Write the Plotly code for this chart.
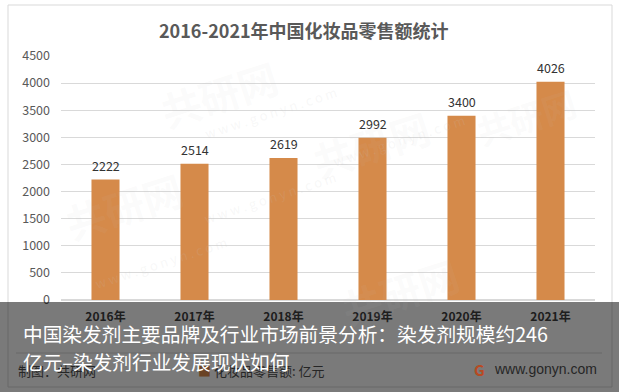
import plotly.graph_objects as go

categories = ["2016年", "2017年", "2018年", "2019年", "2020年", "2021年"]
values = [2222, 2514, 2619, 2992, 3400, 4026]
y_ticks = [0, 500, 1000, 1500, 2000, 2500, 3000, 3500, 4000, 4500]

title_text = "2016-2021年中国化妆品零售额统计"
overlay_line1 = "中国染发剂主要品牌及行业市场前景分析：染发剂规模约246"
overlay_line2 = "亿元–染发剂行业发展现状如何"
source_text = "制图：共研网"
legend_text = "化妆品零售额: 亿元"
site_text = "www.gonyn.com"

W, H = 619, 392
L, R, T, B = 61, 24, 56, 92
PW, PH = W - L - R, H - T - B
FONT = "Noto Sans CJK SC, Noto Sans, sans-serif"


def px(x):
    return (x - L) / PW


def py(y):
    return (H - B - y) / PH


fig = go.Figure()
fig.add_trace(go.Bar(
    x=categories, y=values,
    marker=dict(color="#D58A4A", line=dict(width=0)),
    cliponaxis=False, width=0.315, hoverinfo="skip",
))

shapes = []
# chart border
shapes.append(dict(type="rect", xref="paper", yref="paper",
                   x0=px(8), x1=px(612), y0=py(387), y1=py(5),
                   line=dict(color="#d9d9d9", width=1), layer="below"))
# footer separator
shapes.append(dict(type="line", xref="paper", yref="paper",
                   x0=px(16), x1=px(602), y0=py(353), y1=py(353),
                   line=dict(color="#d9d9d9", width=1), layer="below"))

annotations = []
# watermarks (faint)
wm = [(150, 45, "共研网", 40), (440, 95, "共研网", 40), (55, 255, "共研网", 40),
      (400, 340, "共研网", 40), (585, 75, "共研网", 34)]
for x, y, t, s in wm:
    annotations.append(dict(x=px(x), y=py(y), xref="paper", yref="paper", text=t,
                            showarrow=False, textangle=-18,
                            font=dict(size=s, color="rgba(200,200,200,0.08)", family=FONT, weight="bold")))
wm2 = [(200, 80), (470, 140), (90, 295), (270, 230)]
for x, y in wm2:
    annotations.append(dict(x=px(x), y=py(y), xref="paper", yref="paper", text="w w w . g o n y n . c o m",
                            showarrow=False, textangle=-18,
                            font=dict(size=13, color="rgba(200,200,200,0.14)", family=FONT)))

# value labels above bars
for c, v in zip(categories, values):
    annotations.append(dict(x=c, y=v, xref="x", yref="y", text=str(v), showarrow=False,
                            xanchor="center", yanchor="middle", yshift=14,
                            font=dict(size=12.5, color="#333333", family=FONT)))

# title
annotations.append(dict(x=px(303.5), y=py(29.5), xref="paper", yref="paper", text=title_text,
                        showarrow=False, xanchor="center", yanchor="middle",
                        font=dict(size=18, color="#595959", family=FONT, weight="bold")))

# dark overlay band
shapes.append(dict(type="rect", xref="paper", yref="paper",
                   x0=px(0), x1=px(W), y0=py(H), y1=py(302),
                   fillcolor="rgba(0,0,0,0.52)", line=dict(width=0), layer="above"))

# footer items seen through the overlay (pre-blended colours)
annotations.append(dict(x=px(16), y=py(370), xref="paper", yref="paper", text=source_text,
                        showarrow=False, xanchor="left", yanchor="middle",
                        font=dict(size=13, color="#262626", family=FONT)))
annotations.append(dict(x=px(196), y=py(370), xref="paper", yref="paper",
                        text="<span style='color:#6a4224'>■</span> " + legend_text,
                        showarrow=False, xanchor="left", yanchor="middle",
                        font=dict(size=13, color="#262626", family=FONT)))
annotations.append(dict(x=px(472), y=py(369), xref="paper", yref="paper",
                        text="<span style='color:#b84a22'><b>G</b></span>",
                        showarrow=False, xanchor="left", yanchor="middle",
                        font=dict(size=15, color="#b84a22", family=FONT)))
annotations.append(dict(x=px(492), y=py(369), xref="paper", yref="paper", text=site_text,
                        showarrow=False, xanchor="left", yanchor="middle",
                        font=dict(size=14, color="#262626", family="Liberation Sans, Arial, sans-serif")))

# overlay headline
annotations.append(dict(x=px(21), y=py(333), xref="paper", yref="paper", text=overlay_line1,
                        showarrow=False, xanchor="left", yanchor="middle",
                        font=dict(size=19.7, color="#ffffff", family=FONT)))
annotations.append(dict(x=px(21), y=py(361), xref="paper", yref="paper", text=overlay_line2,
                        showarrow=False, xanchor="left", yanchor="middle",
                        font=dict(size=19.7, color="#ffffff", family=FONT)))

fig.update_layout(
    width=W, height=H,
    margin=dict(l=L, r=R, t=T, b=B),
    paper_bgcolor="#ffffff", plot_bgcolor="#ffffff",
    showlegend=False,
    shapes=shapes, annotations=annotations,
    xaxis=dict(showgrid=False, showline=False, ticks="",
               tickfont=dict(size=12, color="#404040", family=FONT, weight="bold"),
               ticklabelstandoff=8),
    yaxis=dict(range=[0, 4500], tickvals=y_ticks, showgrid=True, gridcolor="#d9d9d9",
               gridwidth=1, zeroline=True, zerolinecolor="#d9d9d9", showline=False,
               ticks="", tickfont=dict(size=12.5, color="#595959", family=FONT),
               ticklabelstandoff=10),
    bargap=0.685,
)

fig.write_html("out.html", config={"displayModeBar": False},
               post_script="document.body.style.margin='0';document.body.style.padding='0';")
